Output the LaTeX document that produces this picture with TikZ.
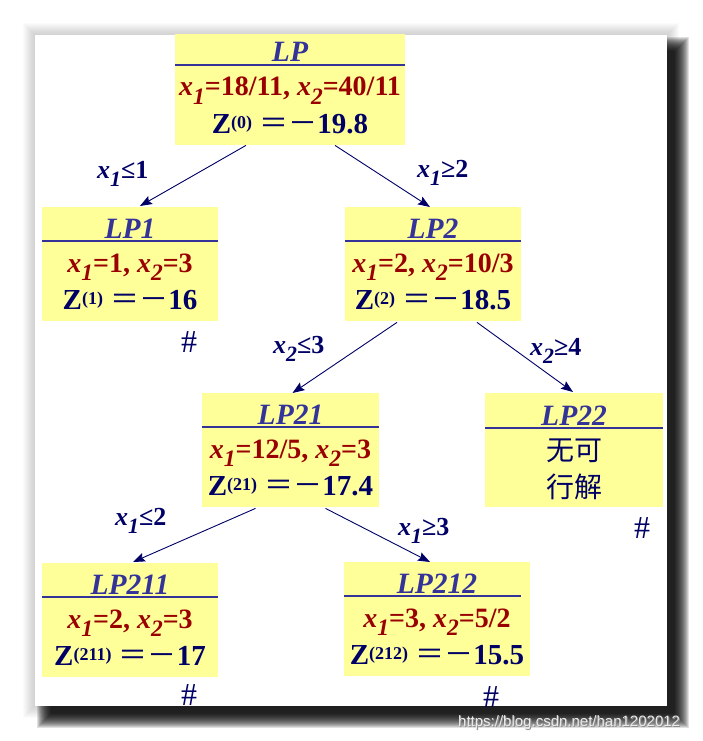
\documentclass[tikz,border=0pt]{standalone}
\usepackage{fontspec}
\usepackage{graphicx}
\setmainfont{Liberation Serif}
\newfontfamily\cjk{Noto Sans CJK SC}
\newfontfamily\wmfont{Liberation Sans}
\usetikzlibrary{arrows.meta,calc}
\definecolor{boxyellow}{HTML}{FFFF99}
\definecolor{titleblue}{HTML}{333399}
\definecolor{solred}{HTML}{990000}
\definecolor{navy}{HTML}{000066}
\newcommand\vx[1]{\textit{x}\raisebox{-0.32em}{\scalebox{0.84}{\textit{#1}}}}
\newcommand\zsup[1]{Z\raisebox{4.6pt}{\fontsize{18}{18}\selectfont(#1)}\hspace{0.25em}{\cjk\mdseries ＝－}}
\newcommand\lpnode[8]{%
  \node[lpbox, minimum width=#4pt] (#1) at (#2,#3) {};
  \draw[sep] ($(#1.north west)+(0,34)$) -- ($(#1.north west)+(#5,34)$);
  \node[ttl] (#1-t) at ($(#1.north)+(0,31)$) {#6};
  \node[sol] (#1-a) at ($(#1.north)+(0,65)$) {#7};
  \node[obj] (#1-b) at ($(#1.north)+(0,102)$) {#8};
}
\begin{document}
\begin{tikzpicture}[x=1pt,y=-1pt,
  lpbox/.style={fill=boxyellow, draw=none, inner sep=0pt, anchor=north, minimum height=114pt},
  ttl/.style={anchor=base, inner sep=0pt, font=\fontsize{29.5}{31}\selectfont\bfseries\itshape, text=titleblue},
  sol/.style={anchor=base, inner sep=0pt, font=\fontsize{28}{30}\selectfont\bfseries, text=solred},
  obj/.style={anchor=base, inner sep=0pt, font=\fontsize{29}{31}\selectfont\bfseries, text=navy},
  cjkline/.style={anchor=base, inner sep=0pt, font=\cjk\fontsize{28}{30}\selectfont, text=navy},
  sep/.style={draw=titleblue, line width=1.1pt},
  branch/.style={draw=navy, line width=0.9pt, -{Stealth[length=12pt,width=9pt,inset=2pt]}},
  cutlbl/.style={anchor=base west, inner sep=0pt, font=\fontsize{26}{28}\selectfont\bfseries, text=navy},
  pruned/.style={anchor=base west, inner sep=0pt, font=\fontsize{32}{34}\selectfont, text=navy},
]
\useasboundingbox (0,0) rectangle (702,741);
% soft glow and drop shadow of the page
\foreach \r in {1,...,12}
  \fill[black, opacity=0.014] (35-\r,35-\r) rectangle (667+\r,706+\r);
\foreach \e in {-4,...,10}
  \fill[black, opacity=0.12] (47-\e,47-\e) rectangle (679+\e,718+\e);
\fill[white] (35,35) rectangle (667,706);
\begin{scope}
\clip (35,35) rectangle (667,706);
% boxes
\lpnode{lp}{290}{31}{230}{230}{LP}{\vx1=18/11, \vx2=40/11}{\zsup{0}19.8}
\lpnode{lp1}{130}{207}{176}{176}{LP1}{\vx1=1, \vx2=3}{\zsup{1}16}
\lpnode{lp2}{433}{207}{176}{176}{LP2}{\vx1=2, \vx2=10/3}{\zsup{2}18.5}
\lpnode{lp21}{290.5}{393}{177}{177}{LP21}{\vx1=12/5, \vx2=3}{\zsup{21}17.4}
\lpnode{lp211}{130}{563}{176}{176}{LP211}{\vx1=2, \vx2=3}{\zsup{211}17}
\lpnode{lp212}{437}{562}{186}{177}{LP212}{\vx1=3, \vx2=5/2}{\zsup{212}15.5}
% infeasible box
\node[lpbox, minimum width=178pt] (lp22) at (574,393) {};
\draw[sep] ($(lp22.north west)+(0,35)$) -- ($(lp22.north east)+(0,35)$);
\node[ttl] (lp22-t) at ($(lp22.north)+(0,32)$) {LP22};
\node[cjkline] (lp22-a) at ($(lp22.north)+(0,67)$) {无可};
\node[cjkline] (lp22-b) at ($(lp22.north)+(0,104)$) {行解};
% branches
\draw[branch] ($(lp.south)+(-44,0)$) -- ($(lp1.north)+(10,-1)$);
\draw[branch] ($(lp.south)+(45,0)$) -- ($(lp2.north)+(-3,0)$);
\draw[branch] ($(lp2.south)+(-36,1)$) -- ($(lp21.north)+(2,0)$);
\draw[branch] ($(lp2.south)+(44,1)$) -- ($(lp22.north)+(-1,-1)$);
\draw[branch] ($(lp21.south)+(-35,1)$) -- ($(lp211.north)+(3,-1)$);
\draw[branch] ($(lp21.south)+(35,1)$) -- ($(lp212.north)+(-7,0)$);
% branch labels
\node[cutlbl] (c1) at (97,178) {\vx1≤1};
\node[cutlbl] (c2) at (417,177) {\vx1≥2};
\node[cutlbl] (c3) at (273,353) {\vx2≤3};
\node[cutlbl] (c4) at (530,355) {\vx2≥4};
\node[cutlbl] (c5) at (115,525) {\vx1≤2};
\node[cutlbl] (c6) at (398,535) {\vx1≥3};
% pruned marks
\node[pruned] (h1) at (181,352) {\#};
\node[pruned] (h2) at (634,538) {\#};
\node[pruned] (h3) at (181,705) {\#};
\node[pruned] (h4) at (483,707) {\#};
\end{scope}
% watermark
\node[anchor=base west, inner sep=0pt, font=\wmfont\fontsize{15}{15}\selectfont, text=black!45] (wm0) at (459,727) {https://blog.csdn.net/han1202012};
\node[anchor=base west, inner sep=0pt, font=\wmfont\fontsize{15}{15}\selectfont, text=white!92!black] (wm) at (458,726) {https://blog.csdn.net/han1202012};
\end{tikzpicture}
\end{document}
